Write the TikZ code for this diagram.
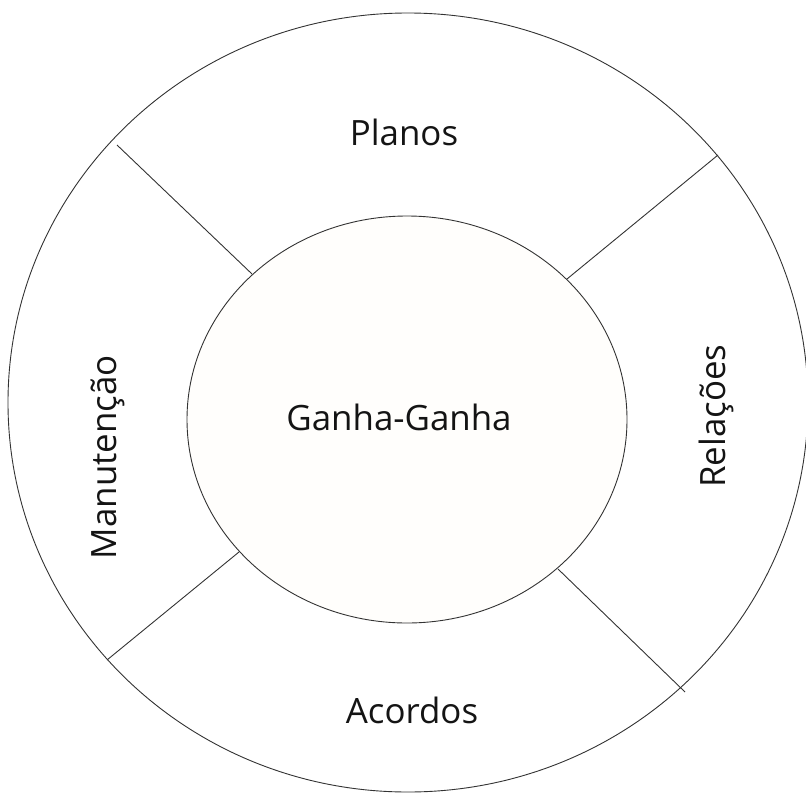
\documentclass[tikz,border=0pt]{standalone}
\usepackage{fontspec}
\setmainfont{Open Sans}
\usetikzlibrary{shapes.geometric}
\tikzset{
  ring/.style={draw=black!80, line width=0.9bp, ellipse, inner sep=0pt},
  divider/.style={draw=black!80, line width=0.9bp},
  lbl/.style={font=\fontsize{35}{42}\selectfont, text=black!92, inner sep=0pt}
}
\begin{document}
\begin{tikzpicture}[x=1bp, y=-1bp]
\useasboundingbox (0,0) rectangle (806,793);
\node[ring, minimum width=800bp, minimum height=779bp] (outer) at (408,402.5) {};
\node[ring, fill=white!99!orange, minimum width=440bp, minimum height=407bp] (inner) at (407,419.5) {};
\node[lbl] (gg) at (399,417) {Ganha-Ganha};
\node[lbl] (planos) at (404,132) {Planos};
\node[lbl] (acordos) at (412,710) {Acordos};
\node[lbl, rotate=90] (manut) at (108,457) {Manutenção};
\node[lbl, rotate=90] (rel) at (716,416) {Relações};
\coordinate (tl1) at (117,145); \coordinate (tl2) at (252,274);
\coordinate (tr1) at (718,155); \coordinate (tr2) at (567,279);
\coordinate (bl1) at (107,660); \coordinate (bl2) at (239,552);
\coordinate (br1) at (685,692); \coordinate (br2) at (558,569);
\draw[divider] (tl1) -- (tl2);
\draw[divider] (tr1) -- (tr2);
\draw[divider] (bl1) -- (bl2);
\draw[divider] (br1) -- (br2);
\end{tikzpicture}
\end{document}
